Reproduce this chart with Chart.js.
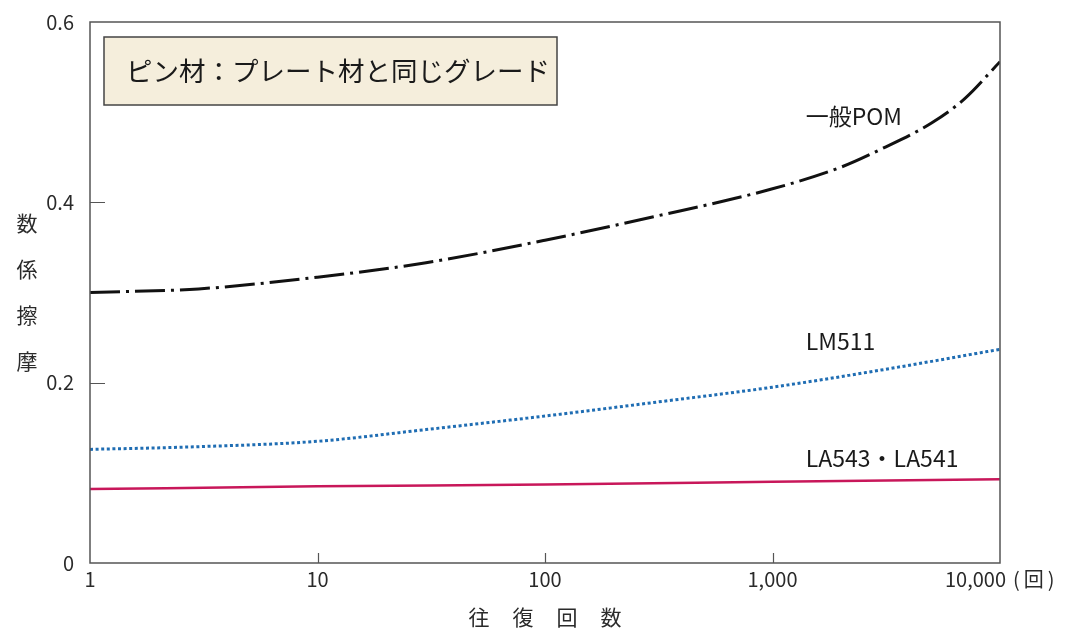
<!DOCTYPE html>
<html><head><meta charset="utf-8">
<script src="https://cdn.jsdelivr.net/npm/chart.js@4"></script>
<style>html,body{margin:0;padding:0;background:#fff}#wrap{width:1087px;height:630px}</style>
</head><body><div id="wrap"><canvas id="c" width="1087" height="630"></canvas></div>
<script>
// ---- data ----
const boxTitle = 'ピン材：プレート材と同じグレード';
const xTitleChars = ['往', '復', '回', '数'];
const yTitleChars = ['摩', '擦', '係', '数'];
const xTickValues = [1, 10, 100, 1000, 10000];
const xTickLabels = ['1', '10', '100', '1,000', '10,000'];
const xUnit = '(\u2009回\u2009)';
const yTickValues = [0, 0.2, 0.4, 0.6];
const yTickLabels = ['0', '0.2', '0.4', '0.6'];

const pomName = '一般POM';
const pomCycles = [1, 3, 10, 30, 100, 300, 1000, 2000, 3000, 5000, 7000, 10000];
const pomValues = [0.300, 0.304, 0.317, 0.333, 0.358, 0.384, 0.415, 0.439, 0.459, 0.488, 0.515, 0.556];

const lmName = 'LM511';
const lmCycles = [1, 3, 10, 30, 100, 300, 1000, 3000, 10000];
const lmValues = [0.126, 0.129, 0.135, 0.148, 0.163, 0.178, 0.195, 0.214, 0.237];

const laName = 'LA543・LA541';
const laCycles = [1, 10, 100, 1000, 10000];
const laValues = [0.082, 0.085, 0.087, 0.090, 0.093];

// label anchors (data coords: cycles, friction)
const seriesLabels = [
  {text: pomName, x: 1400, y: 0.496},
  {text: lmName, x: 1400, y: 0.246},
  {text: laName, x: 1400, y: 0.116}
];

const FONT = '"Noto Sans CJK JP", "Noto Sans", sans-serif';

function pts(xs, ys) { return xs.map((x, i) => ({x: x, y: ys[i]})); }

const decor = {
  id: 'decor',
  afterDraw(chart) {
    const ctx = chart.ctx;
    const xs = chart.scales.x, ys = chart.scales.y;
    const a = chart.chartArea;
    ctx.save();
    // frame
    ctx.strokeStyle = '#555';
    ctx.lineWidth = 1.5;
    ctx.strokeRect(a.left, a.top, a.right - a.left, a.bottom - a.top);
    // ticks (inward)
    ctx.lineWidth = 1.2;
    ctx.beginPath();
    xTickValues.slice(1, -1).forEach(v => {
      const px = Math.round(xs.getPixelForValue(v)) + 0.5;
      ctx.moveTo(px, a.bottom); ctx.lineTo(px, a.bottom - 10);
    });
    yTickValues.slice(1, -1).forEach(v => {
      const py = Math.round(ys.getPixelForValue(v)) + 0.5;
      ctx.moveTo(a.left, py); ctx.lineTo(a.left + 15, py);
    });
    ctx.stroke();
    // tick labels
    ctx.fillStyle = '#2a2a2a';
    ctx.font = '20px ' + FONT;
    ctx.textBaseline = 'middle';
    ctx.textAlign = 'right';
    yTickValues.forEach((v, i) => {
      ctx.fillText(yTickLabels[i], a.left - 16, ys.getPixelForValue(v));
    });
    xTickValues.forEach((v, i) => {
      const px = xs.getPixelForValue(v);
      if (i === xTickValues.length - 1) {
        ctx.textAlign = 'right';
        ctx.fillText(xTickLabels[i], px + 6, a.bottom + 16);
        ctx.textAlign = 'left';
        ctx.fillText(xUnit, px + 13, a.bottom + 16);
      } else {
        ctx.textAlign = 'center';
        ctx.fillText(xTickLabels[i], px, a.bottom + 16);
      }
    });
    // axis titles
    ctx.textAlign = 'center';
    ctx.font = '21px ' + FONT;
    const xc = (a.left + a.right) / 2;
    xTitleChars.forEach((ch, i) => {
      ctx.fillText(ch, xc + (i - 1.5) * 44, a.bottom + 54);
    });
    const yc = (a.top + a.bottom) / 2;
    yTitleChars.forEach((ch, i) => {
      ctx.fillText(ch, 27, yc + (1.5 - i) * 46);
    });
    // series labels
    ctx.font = '23px ' + FONT;
    ctx.textAlign = 'left';
    ctx.fillStyle = '#1a1a1a';
    seriesLabels.forEach(l => {
      ctx.fillText(l.text, xs.getPixelForValue(l.x), ys.getPixelForValue(l.y));
    });
    // title box
    ctx.fillStyle = '#f5eedc';
    ctx.fillRect(104, 37, 453, 68);
    ctx.strokeStyle = '#444';
    ctx.lineWidth = 1.5;
    ctx.strokeRect(104, 37, 453, 68);
    ctx.fillStyle = '#1a1a1a';
    ctx.font = '26.5px ' + FONT;
    ctx.textAlign = 'left';
    ctx.fillText(boxTitle, 126, 71);
    ctx.restore();
  }
};

new Chart(document.getElementById('c'), {
  type: 'line',
  data: {
    datasets: [
      {label: pomName, data: pts(pomCycles, pomValues), borderColor: '#111', borderWidth: 3,
       borderDash: [30, 6, 3, 6], cubicInterpolationMode: 'monotone'},
      {label: lmName, data: pts(lmCycles, lmValues), borderColor: '#1f6db3', borderWidth: 3,
       borderDash: [3, 2.6], cubicInterpolationMode: 'monotone'},
      {label: laName, data: pts(laCycles, laValues), borderColor: '#c8175a', borderWidth: 2.5,
       cubicInterpolationMode: 'monotone'}
    ]
  },
  options: {
    responsive: false,
    animation: false,
    layout: {padding: {left: 90, right: 87, top: 22, bottom: 67}},
    elements: {point: {radius: 0}},
    plugins: {legend: {display: false}, tooltip: {enabled: false}},
    scales: {
      x: {type: 'logarithmic', min: 1, max: 10000, display: false},
      y: {type: 'linear', min: 0, max: 0.6, display: false}
    }
  },
  plugins: [decor]
});
</script>
</body></html>
